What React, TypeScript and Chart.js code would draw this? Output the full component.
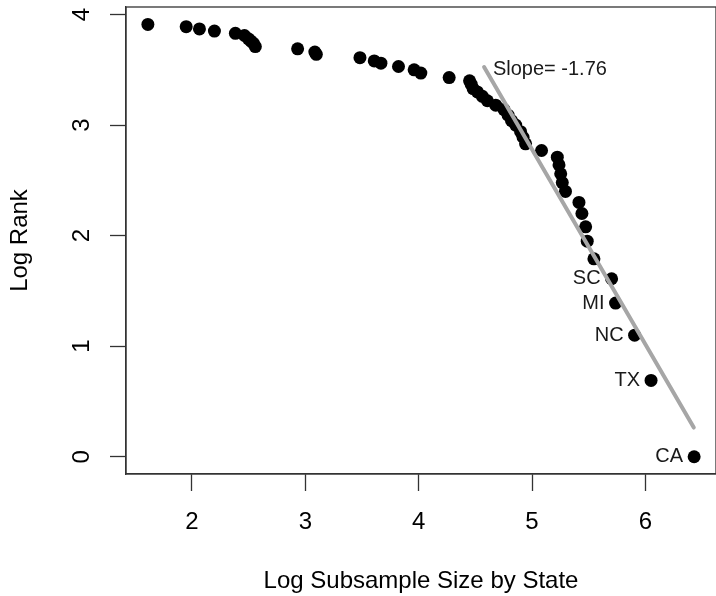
import { useEffect, useRef } from "react";
import { Chart, registerables } from "chart.js";

Chart.register(...registerables);

// Log subsample size by state (x) and log rank (y), rank 1 first
const logSize = [
  6.43, 6.05, 5.905, 5.737, 5.702, 5.546, 5.487, 5.473, 5.44, 5.414,
  5.295, 5.267, 5.253, 5.238, 5.223, 5.084, 4.943, 4.921, 4.899, 4.856,
  4.819, 4.789, 4.753, 4.68, 4.606, 4.562, 4.518, 4.48, 4.463, 4.449,
  4.269, 4.019, 3.96, 3.822, 3.667, 3.608, 3.482, 3.097, 3.084, 2.932,
  2.559, 2.542, 2.52, 2.498, 2.463, 2.383, 2.198, 2.066, 1.949, 1.611,
];
const logRank = [
  0, 0.69, 1.1, 1.39, 1.61, 1.79, 1.95, 2.08, 2.2, 2.3,
  2.4, 2.48, 2.56, 2.64, 2.71, 2.77, 2.83, 2.89, 2.94, 3.0,
  3.04, 3.09, 3.14, 3.18, 3.22, 3.26, 3.3, 3.33, 3.37, 3.4,
  3.43, 3.47, 3.5, 3.53, 3.56, 3.58, 3.61, 3.64, 3.66, 3.69,
  3.71, 3.74, 3.76, 3.78, 3.81, 3.83, 3.85, 3.87, 3.89, 3.91,
];
// labels for the first points (largest states)
const stateLabels = ["CA", "TX", "NC", "MI", "SC"];

// fitted line end points
const fitX = [4.577, 6.427];
const fitY = [3.525, 0.264];
const slopeText = "Slope= -1.76";
const slopeAt = { x: 4.655, y: 3.5 };

const xTicks = [2, 3, 4, 5, 6];
const yTicks = [0, 1, 2, 3, 4];
const xRange = [1.418, 6.623];
const yRange = [-0.156, 4.068];

const FONT = "'Liberation Sans', Arial, sans-serif";
const AXIS = "#333333";

export default function App() {
  const ref = useRef<HTMLCanvasElement | null>(null);

  useEffect(() => {
    if (!ref.current) return;

    const boxPlugin = {
      id: "box",
      beforeDatasetsDraw(chart: any) {
        const { ctx, chartArea } = chart;
        ctx.save();
        ctx.strokeStyle = AXIS;
        ctx.lineWidth = 1.3;
        ctx.strokeRect(chartArea.left, chartArea.top, chartArea.right - chartArea.left, chartArea.bottom - chartArea.top);
        ctx.restore();
      },
    };

    const textPlugin = {
      id: "texts",
      afterDatasetsDraw(chart: any) {
        const { ctx, scales } = chart;
        const meta = chart.getDatasetMeta(1);
        ctx.save();
        ctx.fillStyle = "#1a1a1a";
        ctx.font = `20px ${FONT}`;
        ctx.textBaseline = "middle";
        ctx.textAlign = "right";
        stateLabels.forEach((lab, i) => {
          const pt = meta.data[i];
          if (pt) ctx.fillText(lab, pt.x - 11, pt.y);
        });
        ctx.textAlign = "left";
        ctx.fillText(slopeText, scales.x.getPixelForValue(slopeAt.x), scales.y.getPixelForValue(slopeAt.y));
        ctx.restore();
      },
    };

    const zeroPad = (s: any) => {
      s.paddingTop = 0;
      s.paddingBottom = 0;
      s.paddingLeft = 0;
      s.paddingRight = 0;
    };

    const chart = new Chart(ref.current, {
      type: "scatter",
      data: {
        datasets: [
          {
            type: "line",
            data: fitX.map((x, i) => ({ x, y: fitY[i] })),
            borderColor: "#a6a6a6",
            borderWidth: 4,
            borderCapStyle: "round",
            pointRadius: 0,
            fill: false,
            clip: false,
          } as any,
          {
            data: logSize.map((x, i) => ({ x, y: logRank[i] })),
            backgroundColor: "#000000",
            borderWidth: 0,
            pointRadius: 6.5,
            pointHoverRadius: 6.5,
            clip: false,
          } as any,
        ],
      },
      options: {
        animation: false,
        responsive: true,
        maintainAspectRatio: false,
        layout: { autoPadding: false, padding: { top: 7, right: 0, bottom: 0, left: 0 } },
        plugins: { legend: { display: false }, tooltip: { enabled: false } },
        events: [],
        scales: {
          x: {
            type: "linear",
            position: "bottom",
            min: xRange[0],
            max: xRange[1],
            afterBuildTicks: (s: any) => {
              s.ticks = xTicks.map((v) => ({ value: v }));
            },
            afterFit: (s: any) => {
              s.height = 122;
              zeroPad(s);
            },
            grid: { drawOnChartArea: false, drawTicks: true, tickLength: 17, tickColor: AXIS, tickWidth: 1.3 },
            border: { display: true, color: AXIS, width: 1.3 },
            ticks: {
              color: "#000",
              font: { family: FONT, size: 24 },
              padding: 17,
              maxRotation: 0,
              autoSkip: false,
              callback: (v: any) => String(v),
            },
            title: {
              display: true,
              text: "Log Subsample Size by State",
              color: "#000",
              font: { family: FONT, size: 24 },
              padding: { top: 0, bottom: 0 },
            },
          },
          y: {
            type: "linear",
            min: yRange[0],
            max: yRange[1],
            afterBuildTicks: (s: any) => {
              s.ticks = yTicks.map((v) => ({ value: v }));
            },
            afterFit: (s: any) => {
              s.width = 126;
              zeroPad(s);
            },
            grid: { drawOnChartArea: false, drawTicks: true, tickLength: 16, tickColor: AXIS, tickWidth: 1.3 },
            border: { display: true, color: AXIS, width: 1.3 },
            ticks: {
              color: "#000",
              font: { family: FONT, size: 24 },
              padding: 21,
              minRotation: 90,
              maxRotation: 90,
              crossAlign: "center",
              autoSkip: false,
              callback: (v: any) => String(v),
            },
            title: {
              display: true,
              text: "Log Rank",
              color: "#000",
              font: { family: FONT, size: 24 },
              padding: { top: 6, bottom: 0 },
            },
          },
        },
      },
      plugins: [boxPlugin, textPlugin],
    });

    return () => chart.destroy();
  }, []);

  return (
    <div style={{ position: "absolute", left: 0, top: 0, width: 716, height: 596, background: "#fff" }}>
      <canvas ref={ref} />
    </div>
  );
}
